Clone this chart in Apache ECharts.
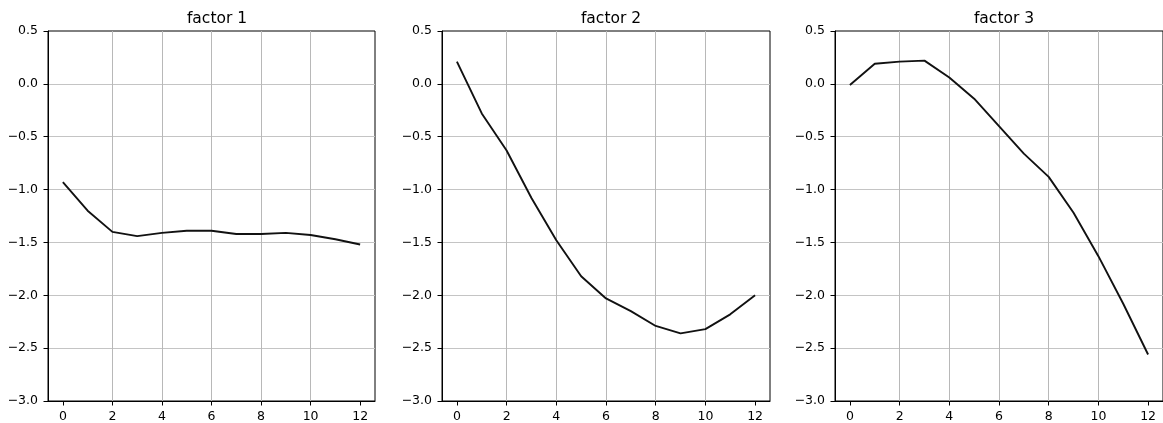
<!DOCTYPE html>
<html>
<head>
<meta charset="utf-8">
<script src="https://cdn.jsdelivr.net/npm/echarts@6/dist/echarts.min.js"></script>
<style>
html,body{margin:0;padding:0;background:#fff;}
#chart{width:1163px;height:423px;}
</style>
</head>
<body>
<div id="chart"></div>
<script>
const titles = ["factor 1", "factor 2", "factor 3"];
const steps = [0, 1, 2, 3, 4, 5, 6, 7, 8, 9, 10, 11, 12];
const factor1 = [-0.93, -1.20, -1.40, -1.44, -1.41, -1.39, -1.39, -1.42, -1.42, -1.41, -1.43, -1.47, -1.52];
const factor2 = [0.21, -0.28, -0.63, -1.08, -1.48, -1.82, -2.03, -2.15, -2.29, -2.36, -2.32, -2.18, -2.00];
const factor3 = [-0.01, 0.19, 0.21, 0.22, 0.06, -0.14, -0.40, -0.66, -0.88, -1.22, -1.63, -2.08, -2.56];
const xTicks = [0, 2, 4, 6, 8, 10, 12];
const yTicks = [0.5, 0.0, -0.5, -1.0, -1.5, -2.0, -2.5, -3.0];

const seriesValues = [factor1, factor2, factor3];
const gridLefts = [48, 442, 835];
const gridWidths = [327, 328, 329];
const font = "DejaVu Sans";

const grids = [], xAxes = [], yAxes = [], series = [], titleOpts = [];
seriesValues.forEach((vals, i) => {
  grids.push({left: gridLefts[i], top: 31, width: gridWidths[i], height: 370,
    show: true, borderColor: '#000', borderWidth: 1, backgroundColor: 'transparent'});
  titleOpts.push({text: titles[i], left: gridLefts[i] + 164, top: 6, textAlign: 'center',
    textStyle: {fontFamily: font, fontSize: 15.5, fontWeight: 'normal', color: '#000'}});
  xAxes.push({type: 'value', gridIndex: i, min: -0.6, max: 12.6,
    axisLine: {show: true, onZero: false, lineStyle: {color: '#000', width: 1}},
    axisTick: {show: true, length: 4.5, customValues: xTicks, lineStyle: {color: '#000', width: 1}},
    axisLabel: {customValues: xTicks, margin: 9, fontFamily: font, fontSize: 12.5, color: '#000'},
    splitLine: {show: true, showMinLine: false, showMaxLine: false, lineStyle: {color: '#b8b8b8', width: 1}}
  });
  yAxes.push({type: 'value', gridIndex: i, min: -3, max: 0.5, interval: 0.5,
    axisLine: {show: true, onZero: false, lineStyle: {color: '#000', width: 1}},
    axisTick: {show: true, length: 4.5, lineStyle: {color: '#000', width: 1}},
    axisLabel: {margin: 10, fontFamily: font, fontSize: 12.5, color: '#000',
      customValues: yTicks,
      formatter: v => v.toFixed(1).replace('-', '\u2212')},
    splitLine: {show: true, showMinLine: false, showMaxLine: false, lineStyle: {color: '#c4c4c4', width: 1.2}}
  });
  series.push({type: 'line', xAxisIndex: i, yAxisIndex: i, symbol: 'none',
    data: steps.map((s, k) => [s, vals[k]]),
    lineStyle: {color: '#111', width: 1.9}, z: 5});
});

const chart = echarts.init(document.getElementById('chart'), null, {renderer: 'canvas'});
chart.setOption({
  animation: false,
  title: titleOpts,
  grid: grids,
  xAxis: xAxes,
  yAxis: yAxes,
  series: series
});
</script>
</body>
</html>
